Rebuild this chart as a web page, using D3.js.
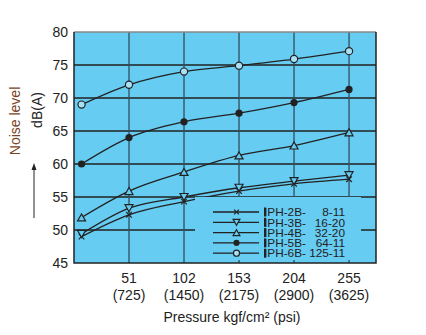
<!DOCTYPE html>
<html><head><meta charset="utf-8">
<script src="https://cdn.jsdelivr.net/npm/d3@7"></script>
<style>body{margin:0;background:#fff}svg{display:block}text{font-family:"Liberation Sans",Arial,sans-serif}</style>
</head><body><svg id="c" width="426" height="335"></svg>
<script>
const pressures = [7, 51, 102, 153, 204, 255];
const xTicks = [51, 102, 153, 204, 255];
const xTickPsi = ["(725)", "(1450)", "(2175)", "(2900)", "(3625)"];
const yTicks = [45, 50, 55, 60, 65, 70, 75, 80];
const seriesNames = ["IPH-2B-", "IPH-3B-", "IPH-4B-", "IPH-5B-", "IPH-6B-"];
const seriesSizes = ["8-11", "16-20", "32-20", "64-11", "125-11"];
const s2B = [49.0, 52.3, 54.3, 55.9, 57.0, 57.7];
const s3B = [49.4, 53.3, 55.0, 56.4, 57.4, 58.3];
const s4B = [51.9, 55.9, 58.8, 61.3, 62.8, 64.8];
const s5B = [60.0, 64.0, 66.4, 67.7, 69.3, 71.3];
const s6B = [69.0, 72.0, 74.0, 74.9, 75.9, 77.1];
const markers = ["x", "tdown", "tup", "dot", "circle"];

const svg = d3.select("#c");
const L = 74, R = 376, T = 32, B = 263;
const bg = "#66ccf2", ink = "#222";
const x = d3.scaleLinear().domain([0, 280]).range([L, R]);
const y = d3.scaleLinear().domain([45, 80]).range([B, T]);

svg.append("rect").attr("x", L).attr("y", T).attr("width", R - L).attr("height", B - T).attr("fill", bg);

// grid
const g = svg.append("g");
g.selectAll(".hg").data(yTicks.slice(1, -1)).join("line")
  .attr("x1", L).attr("x2", R).attr("y1", d => y(d)).attr("y2", d => y(d))
  .attr("stroke", ink).attr("stroke-width", 1.3);
g.selectAll(".vg").data(xTicks).join("line")
  .attr("x1", d => x(d)).attr("x2", d => x(d)).attr("y1", T).attr("y2", B)
  .attr("stroke", "#2f4f5f").attr("stroke-width", 1.3);

// data
const all = [s2B, s3B, s4B, s5B, s6B];
const line = d3.line().x((d, i) => x(pressures[i])).y(d => y(d)).curve(d3.curveMonotoneX);
svg.append("g").selectAll("path").data(all).join("path")
  .attr("d", d => line(d)).attr("fill", "none").attr("stroke", ink).attr("stroke-width", 1.3);

function marker(sel, type, cx, cy, sc) {
  sc = sc || 1;
  if (type === "x") {
    const s = 2.8 * sc;
    sel.append("path").attr("d", `M${cx-s},${cy-s}L${cx+s},${cy+s}M${cx-s},${cy+s}L${cx+s},${cy-s}`)
      .attr("stroke", ink).attr("stroke-width", 1.2).attr("fill", "none");
  } else if (type === "tdown") {
    const a = 4 * sc, b = 3.5 * sc;
    sel.append("path").attr("d", `M${cx-a},${cy-b}L${cx+a},${cy-b}L${cx},${cy+b}Z`)
      .attr("stroke", ink).attr("stroke-width", 1.2).attr("fill", bg);
  } else if (type === "tup") {
    const a = 4 * sc, b = 3.5 * sc;
    sel.append("path").attr("d", `M${cx-a},${cy+b}L${cx+a},${cy+b}L${cx},${cy-b}Z`)
      .attr("stroke", ink).attr("stroke-width", 1.2).attr("fill", bg);
  } else if (type === "dot") {
    sel.append("circle").attr("cx", cx).attr("cy", cy).attr("r", 3.6 * sc).attr("fill", ink);
  } else {
    sel.append("circle").attr("cx", cx).attr("cy", cy).attr("r", 3.6 * sc)
      .attr("fill", "#a8e0f6").attr("stroke", ink).attr("stroke-width", 1.2);
  }
}
const mg = svg.append("g");
all.forEach((s, k) => s.forEach((v, i) => marker(mg, markers[k], x(pressures[i]), y(v))));

// legend
const lg = svg.append("g");
lg.append("rect").attr("x", 195).attr("y", 197).attr("width", 166).attr("height", 63).attr("fill", bg);
seriesNames.forEach((n, k) => {
  const ly = 212 + k * 10.3;
  lg.append("line").attr("x1", 213).attr("x2", 259).attr("y1", ly).attr("y2", ly)
    .attr("stroke", ink).attr("stroke-width", 1.3);
  marker(lg, markers[k], 236.5, ly, 0.85);
  lg.append("rect").attr("x", 264).attr("y", ly - 4.5).attr("width", 2.2).attr("height", 9).attr("fill", ink);
  lg.append("text").attr("x", 264).attr("y", ly + 4.2).attr("font-size", 11.8).attr("fill", ink).text(n);
  lg.append("text").attr("x", 345).attr("y", ly + 4.2).attr("font-size", 11.8).attr("fill", ink)
    .attr("text-anchor", "end").text(seriesSizes[k]);
});

// frame
svg.append("line").attr("x1", L).attr("x2", R).attr("y1", T).attr("y2", T).attr("stroke", "#888").attr("stroke-width", 1.5);
svg.append("path").attr("d", `M${L},${T}V${B}H${R}V${T}`).attr("fill", "none").attr("stroke", ink).attr("stroke-width", 1.5);

// y tick labels
svg.append("g").selectAll("text").data(yTicks).join("text")
  .attr("x", 68).attr("y", d => y(d) + 5).attr("text-anchor", "end")
  .attr("font-size", 14).attr("fill", ink).text(d => d);

// x tick labels
svg.append("g").selectAll("text").data(xTicks).join("text")
  .attr("x", d => x(d)).attr("y", 283).attr("text-anchor", "middle")
  .attr("font-size", 14).attr("fill", ink).text(d => d);
svg.append("g").selectAll("text").data(xTickPsi).join("text")
  .attr("x", (d, i) => x(xTicks[i])).attr("y", 300).attr("text-anchor", "middle")
  .attr("font-size", 14).attr("fill", ink).text(d => d);

svg.append("text").attr("x", 232).attr("y", 322).attr("text-anchor", "middle")
  .attr("font-size", 14).attr("fill", ink).text("Pressure kgf/cm² (psi)");

// y axis titles
svg.append("text").attr("transform", "translate(20,121) rotate(-90)").attr("text-anchor", "middle")
  .attr("font-size", 14).attr("fill", "#7a4424").text("Noise level");
svg.append("text").attr("transform", "translate(42,110) rotate(-90)").attr("text-anchor", "middle")
  .attr("font-size", 14).attr("fill", ink).text("dB(A)");
svg.append("line").attr("x1", 34).attr("x2", 34).attr("y1", 218).attr("y2", 168).attr("stroke", ink).attr("stroke-width", 1);
svg.append("path").attr("d", "M34,163L31.5,170L36.5,170Z").attr("fill", ink);
</script></body></html>
